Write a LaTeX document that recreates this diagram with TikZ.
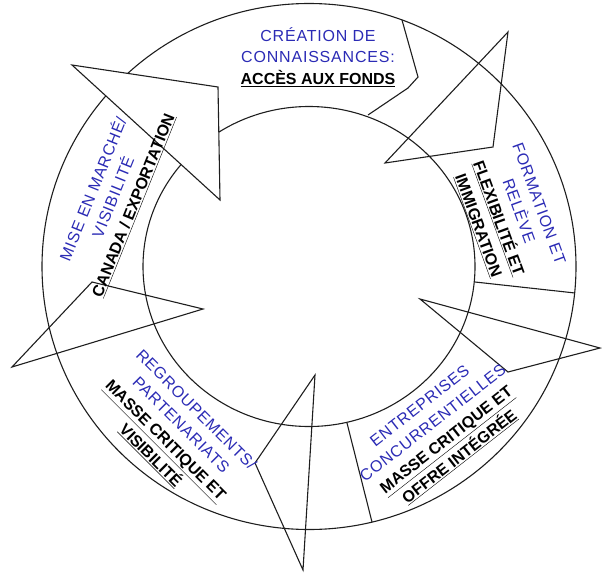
\documentclass[tikz,border=0pt]{standalone}
\usepackage{fontspec}
\setmainfont{Liberation Sans}
\usepackage{tikz}
\definecolor{CycleLine}{HTML}{1E1E1E}
\definecolor{CycleBlue}{HTML}{2B2BB5}
\newcommand{\stagename}[1]{{\color{CycleBlue}\addfontfeatures{LetterSpace=5}#1}}
\newcommand{\stagenote}[1]{\underline{\bfseries #1}}
\tikzset{
  stagetext/.style={align=center,inner sep=0pt,text=black,font=\fontsize{16}{21.5}\selectfont},
  ringline/.style={CycleLine,line width=1.1pt,line join=miter}
}

\begin{document}
\begin{tikzpicture}[x=1pt,y=-1pt]
    \useasboundingbox (0,0) rectangle (602,573);
    \coordinate (hub) at (309,266.5);
    \draw[ringline] (hub) ellipse [x radius=267,y radius=263];
    \draw[ringline] (hub) ellipse [x radius=166,y radius=160];

    % ends of the text boxes
    \draw[ringline] (402,20) -- (418,77) -- (408,88) -- (368,115);
    \draw[ringline] (475,282) -- (575,293);
    \draw[ringline] (347,423) -- (372,522);

    % arrow heads: outer barb / tip / inner barb
    \draw[ringline,fill=white] (72,65) -- (218,87) -- (220,200) -- cycle;
    \foreach \o/\t/\i in {{508,32}/{493,147}/{385,163},
                          {600,348}/{508,372}/{420,299},
                          {303,570}/{255,463}/{315,375},
                          {12,367}/{92,282}/{203,309}} {
      \draw[ringline] (\o) -- (\t) -- (\i) -- cycle;
    }

    \node[stagetext] (creation) at (318,57)
      {\stagename{CRÉATION DE}\\\stagename{CONNAISSANCES:}\\\stagenote{ACCÈS AUX FONDS}};
    \node[stagetext,rotate=-70] (formation) at (508,215)
      {\stagename{FORMATION ET}\\\stagename{RELÈVE}\\\stagenote{FLEXIBILITÉ ET}\\\stagenote{IMMIGRATION}};
    \node[stagetext,rotate=38] (entreprises) at (440,432)
      {\stagename{ENTREPRISES}\\\stagename{CONCURRENTIELLES}\\\stagenote{MASSE CRITIQUE ET}\\\stagenote{OFFRE INTÉGRÉE}};
    \node[stagetext,rotate=-45] (regroupements) at (173,433)
      {\stagename{REGROUPEMENTS/}\\\stagename{PARTENARIATS}\\\stagenote{MASSE CRITIQUE ET}\\\stagenote{VISIBILITÉ}};
    \node[stagetext,rotate=68] (marche) at (113,197)
      {\stagename{MISE EN MARCHÉ/}\\\stagename{VISIBILITÉ}\\\stagenote{CANADA / EXPORTATION}};
  \end{tikzpicture}
\end{document}
